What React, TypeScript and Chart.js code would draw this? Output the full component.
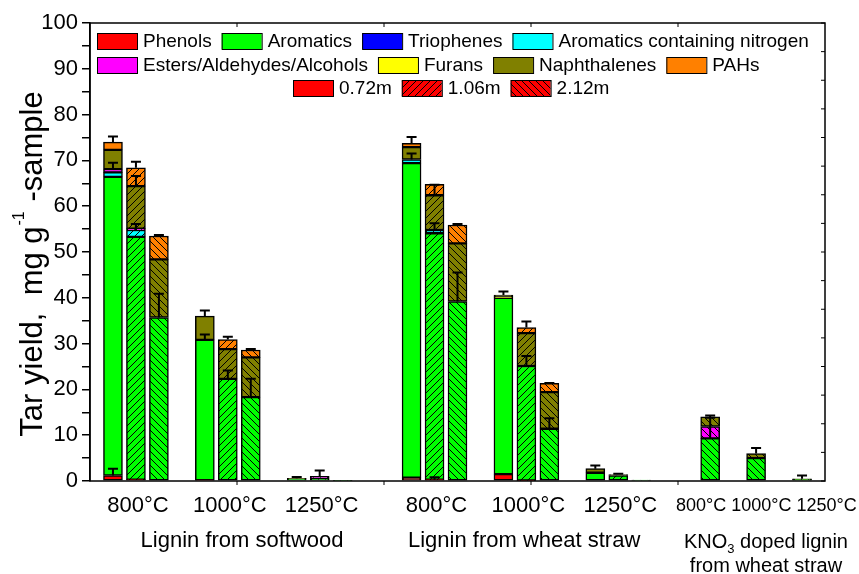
import React, { useEffect, useRef } from 'react';
import { Chart, registerables } from 'chart.js';

Chart.register(...registerables);

const FONT = '"Liberation Sans", Arial, Helvetica, sans-serif';

// ---------- categories ----------
const materials = ['Lignin from softwood', 'Lignin from wheat straw', 'KNO3 doped lignin from wheat straw'];
const temperatures = ['800°C', '1000°C', '1250°C'];
const reactorLengths = ['0.72m', '1.06m', '2.12m'];

// one entry per bar (material index, temperature index, reactor length index)
const barMaterial = [0, 0, 0, 0, 0, 0, 0, 0, 0, 1, 1, 1, 1, 1, 1, 1, 1, 1, 2, 2, 2];
const barTemperature = [0, 0, 0, 1, 1, 1, 2, 2, 2, 0, 0, 0, 1, 1, 1, 2, 2, 2, 0, 1, 2];
const barLength = [0, 1, 2, 0, 1, 2, 0, 1, 2, 0, 1, 2, 0, 1, 2, 0, 1, 2, 2, 2, 2];

// ---------- series values (mg g-1 sample) ----------
const phenols = [1.2, 0.3, null, 0.2, null, null, null, null, null, 0.7, 0.3, null, 1.5, 0.1, null, null, null, null, null, null, null];
const aromatics = [65.2, 53.0, 35.7, 30.6, 22.3, 18.3, 0.5, 0.4, 0.15, 68.7, 53.8, 39.2, 38.5, 25.0, 11.4, 1.8, 1.2, 0.2, 9.3, 5.0, 0.3];
const triophenes = [null, null, null, null, null, null, null, null, null, null, null, null, null, null, null, null, null, null, null, null, null];
const nitrogenAromatics = [1.0, 1.5, null, null, null, null, null, null, null, 0.8, 0.7, null, null, null, null, null, null, null, null, null, null];
const estersAldehydesAlcohols = [0.7, 0.3, null, null, null, null, null, 0.6, null, null, null, null, null, null, null, null, null, null, 2.6, null, null];
const furans = [null, null, null, null, null, null, null, null, null, null, null, null, 0.2, null, null, null, null, null, null, null, null];
const naphthalenes = [4.2, 9.3, 12.7, 5.2, 6.5, 8.7, 0.1, null, null, 2.7, 7.6, 12.7, 0.4, 7.2, 8.0, 0.9, 0.2, null, 2.1, 1.0, 0.2];
const pahs = [1.7, 4.0, 5.1, null, 2.1, 1.6, null, null, null, 0.8, 2.4, 4.0, null, 1.2, 1.9, null, null, null, null, null, null];

// ---------- error bars (upper) ----------
const errPhenols = [1.5, null, null, null, null, null, null, null, null, null, 0.5, null, null, null, null, null, null, null, null, null, null];
const errAromatics = [null, null, 5.2, 1.2, 1.8, 4.0, null, null, null, null, null, 6.3, null, 2.2, 2.3, null, null, null, 4.5, null, null];
const errTriophenes = [null, null, null, null, null, null, null, null, null, null, null, null, null, null, null, null, null, null, null, null, null];
const errNitrogen = [null, 1.3, null, null, null, null, null, null, null, 1.3, 1.5, null, null, null, null, null, null, null, null, null, null];
const errEsters = [1.4, 1.0, null, null, null, null, null, 1.3, null, null, null, null, null, null, null, null, null, null, null, null, null];
const errFurans = [null, null, null, null, null, null, null, null, null, null, null, null, null, null, null, null, null, null, null, null, null];
const errNaphthalenes = [null, 2.2, null, 1.2, null, null, 0.3, null, null, null, 2.3, null, 0.8, null, null, 0.7, 0.2, null, 0.3, 1.2, 0.7];
const errPAHs = [1.2, 1.3, 0.2, null, 0.6, 0.2, null, null, null, 1.4, null, 0.2, null, 1.3, 0.1, null, null, null, null, null, null];

// ---------- y axis ----------
const yMin = 0;
const yMax = 100;
const yMinorStep = 5;
const yLabelStep = 10;

const componentNames = ['Phenols', 'Aromatics', 'Triophenes', 'Aromatics containing nitrogen', 'Esters/Aldehydes/Alcohols', 'Furans', 'Naphthalenes', 'PAHs'];
const componentColors = ['#FF0000', '#00FF00', '#0000FF', '#00FFFF', '#FF00FF', '#FFFF00', '#808000', '#FF8000'];
const componentValues = [phenols, aromatics, triophenes, nitrogenAromatics, estersAldehydesAlcohols, furans, naphthalenes, pahs];
const componentErrors = [errPhenols, errAromatics, errTriophenes, errNitrogen, errEsters, errFurans, errNaphthalenes, errPAHs];

// slot position on the x scale (bar pitch units)
function barSlot(i: number): number {
  const m = barMaterial[i];
  const t = barTemperature[i];
  const l = barLength[i];
  if (m < 2) return m * 13 + t * 4 + l;
  return 26 + t * 2;
}

function makeFill(ctx: CanvasRenderingContext2D, color: string, kind: number): any {
  if (kind === 0) return color;
  const s = 7;
  const c = document.createElement('canvas');
  c.width = s;
  c.height = s;
  const g = c.getContext('2d')!;
  g.fillStyle = color;
  g.fillRect(0, 0, s, s);
  g.strokeStyle = '#000';
  g.lineWidth = 1;
  g.beginPath();
  if (kind === 1) {
    g.moveTo(-1, s + 1); g.lineTo(s + 1, -1);
    g.moveTo(-2, 2); g.lineTo(2, -2);
    g.moveTo(s - 2, s + 2); g.lineTo(s + 2, s - 2);
  } else {
    g.moveTo(-1, -1); g.lineTo(s + 1, s + 1);
    g.moveTo(s - 2, -2); g.lineTo(s + 2, 2);
    g.moveTo(-2, s - 2); g.lineTo(2, s + 2);
  }
  g.stroke();
  return ctx.createPattern(c, 'repeat');
}

export default function App() {
  const ref = useRef<HTMLCanvasElement | null>(null);

  useEffect(() => {
    const canvas = ref.current!;
    const c2d = canvas.getContext('2d')!;
    const fills = componentColors.map((col) => [0, 1, 2].map((k) => makeFill(c2d, col, k)));
    const legendFills = [0, 1, 2].map((k) => makeFill(c2d, '#FF0000', k));

    const datasets = componentNames.map((name, d) => ({
      label: name,
      data: componentValues[d].map((v, i) => ({ x: barSlot(i), y: v })),
      backgroundColor: (c: any) => (c.dataIndex == null ? componentColors[d] : fills[d][barLength[c.dataIndex]]),
      borderColor: '#000',
      borderWidth: 1.5,
      borderSkipped: false,
      barThickness: 19,
    }));

    const decor = {
      id: 'decor',
      afterDatasetsDraw(chart: any) {
        const { ctx, scales } = chart;
        const y = scales.y;
        const unit = y.getPixelForValue(0) - y.getPixelForValue(1);
        ctx.save();
        ctx.strokeStyle = '#000';
        ctx.lineWidth = 2;
        componentErrors.forEach((errs, d) => {
          const meta = chart.getDatasetMeta(d);
          errs.forEach((e, i) => {
            const v = componentValues[d][i];
            if (!e || v == null) return;
            const el = meta.data[i];
            const px = el.x;
            const top = el.y;
            const end = top - e * unit;
            ctx.beginPath();
            ctx.moveTo(px, top);
            ctx.lineTo(px, end);
            ctx.moveTo(px - 5, end);
            ctx.lineTo(px + 5, end);
            ctx.stroke();
          });
        });
        ctx.restore();
      },
      afterDraw(chart: any) {
        const { ctx, chartArea: a, scales } = chart;
        const x = scales.x;
        const y = scales.y;
        ctx.save();
        // frame
        ctx.strokeStyle = '#000';
        ctx.lineWidth = 1.5;
        ctx.strokeRect(a.left, a.top, a.right - a.left, a.bottom - a.top);
        // small ticks on right / top / bottom
        ctx.lineWidth = 1;
        ctx.beginPath();
        for (let v = yMin; v <= yMax; v += 6.25) {
          const py = y.getPixelForValue(v);
          ctx.moveTo(a.right, py);
          ctx.lineTo(a.right - 4, py);
        }
        const w = (a.right - a.left) / 5;
        for (let k = 1; k < 5; k++) {
          const px = a.left + k * w;
          ctx.moveTo(px, a.top);
          ctx.lineTo(px, a.top + 4);
          ctx.moveTo(px, a.bottom);
          ctx.lineTo(px, a.bottom + 4);
        }
        ctx.stroke();

        // legend
        ctx.fillStyle = '#000';
        ctx.textBaseline = 'middle';
        ctx.textAlign = 'left';
        ctx.font = `19px ${FONT}`;
        const box = (bx: number, cy: number, fill: any) => {
          ctx.fillStyle = fill;
          ctx.fillRect(bx, cy - 8, 40, 16);
          ctx.strokeStyle = '#000';
          ctx.lineWidth = 1;
          ctx.strokeRect(bx + 0.5, cy - 7.5, 40, 16);
        };
        const rows = [
          { x: a.left + 7, y: a.top + 18, items: [0, 1, 2, 3] },
          { x: a.left + 7, y: a.top + 42, items: [4, 5, 6, 7] },
        ];
        rows.forEach((r) => {
          let cx = r.x;
          r.items.forEach((d) => {
            box(cx, r.y, componentColors[d]);
            ctx.fillStyle = '#000';
            ctx.fillText(componentNames[d], cx + 46, r.y + 1);
            cx += 46 + ctx.measureText(componentNames[d]).width + 10;
          });
        });
        let lx = a.left + 203;
        const ly = a.top + 65;
        reactorLengths.forEach((name, k) => {
          box(lx, ly, legendFills[k]);
          ctx.fillStyle = '#000';
          ctx.fillText(name, lx + 46, ly + 1);
          lx += 46 + ctx.measureText(name).width + 10;
        });

        // x labels
        ctx.fillStyle = '#000';
        ctx.textAlign = 'center';
        ctx.font = `22px ${FONT}`;
        for (let m = 0; m < 2; m++) {
          temperatures.forEach((t, ti) => {
            ctx.fillText(t, x.getPixelForValue(m * 13 + ti * 4 + 1) + 2, 506);
          });
        }
        ctx.fillText(materials[0], x.getPixelForValue(5.62), 541);
        ctx.fillText(materials[1], x.getPixelForValue(17.9), 541);
        ctx.font = `18px ${FONT}`;
        ctx.fillText(temperatures.join(' '), x.getPixelForValue(28.45), 506);
        // KNO3 label
        const kx = x.getPixelForValue(28.43);
        ctx.font = `20px ${FONT}`;
        const p1 = 'KNO';
        const p3 = ' doped lignin';
        const w1 = ctx.measureText(p1).width;
        const w3 = ctx.measureText(p3).width;
        ctx.font = `13px ${FONT}`;
        const w2 = ctx.measureText('3').width;
        const sx = kx - (w1 + w2 + w3) / 2;
        ctx.textAlign = 'left';
        ctx.font = `20px ${FONT}`;
        ctx.fillText(p1, sx, 542);
        ctx.font = `13px ${FONT}`;
        ctx.fillText('3', sx + w1, 549);
        ctx.font = `20px ${FONT}`;
        ctx.fillText(p3, sx + w1 + w2, 542);
        ctx.textAlign = 'center';
        ctx.fillText('from wheat straw', kx, 566);

        // y title
        ctx.translate(33, 265);
        ctx.rotate(-Math.PI / 2);
        ctx.textAlign = 'left';
        ctx.textBaseline = 'middle';
        const t1 = 'Tar yield,  mg g';
        const t2 = '-1';
        const t3 = ' -sample';
        ctx.font = `31px ${FONT}`;
        const a1 = ctx.measureText(t1).width;
        const a3 = ctx.measureText(t3).width;
        ctx.font = `16px ${FONT}`;
        const a2 = ctx.measureText(t2).width;
        const st = -(a1 + a2 + a3) / 2;
        ctx.font = `31px ${FONT}`;
        ctx.fillText(t1, st, 0);
        ctx.font = `16px ${FONT}`;
        ctx.fillText(t2, st + a1 + 1, -13);
        ctx.font = `31px ${FONT}`;
        ctx.fillText(t3, st + a1 + a2 + 2, 0);
        ctx.restore();
      },
    };

    const chart = new Chart(canvas, {
      type: 'bar',
      data: { datasets: datasets as any },
      options: {
        responsive: false,
        animation: false,
        devicePixelRatio: 1,
        layout: { padding: { top: 23, right: 34, left: 0, bottom: 0 } },
        plugins: { legend: { display: false }, tooltip: { enabled: false } },
        scales: {
          x: {
            type: 'linear',
            min: -1,
            max: 31,
            offset: false,
            stacked: true,
            ticks: { display: false },
            grid: { display: false, drawTicks: false, offset: false },
            border: { display: false },
            afterFit: (s: any) => { s.height = 93; },
          },
          y: {
            type: 'linear',
            min: yMin,
            max: yMax,
            stacked: true,
            ticks: {
              stepSize: yMinorStep,
              autoSkip: false,
              color: '#000',
              padding: 4,
              font: { family: FONT, size: 22 },
              callback: (v: any) => (Number(v) % yLabelStep === 0 ? String(v) : ''),
            },
            grid: { drawOnChartArea: false, drawTicks: true, tickLength: 8, color: '#000', lineWidth: 1.5 },
            border: { display: true, color: '#000', width: 1.5 },
            afterFit: (s: any) => { s.width = 90; },
          },
        },
      } as any,
      plugins: [decor],
    });
    return () => chart.destroy();
  }, []);

  return (
    <div style={{ position: 'absolute', left: 0, top: 0, width: 859, height: 574, background: '#fff' }}>
      <canvas ref={ref} width={859} height={574} style={{ display: 'block', width: 859, height: 574 }} />
    </div>
  );
}
